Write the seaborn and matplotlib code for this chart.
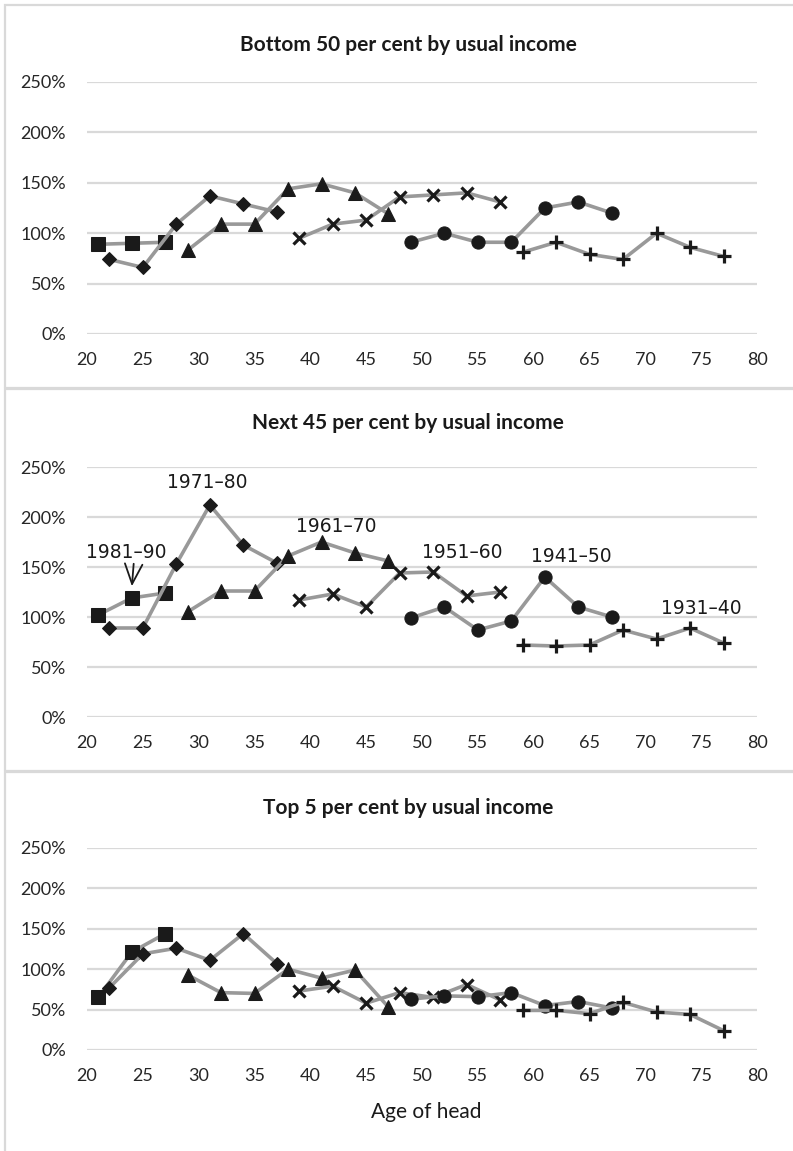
import numpy as np
import pandas as pd
import matplotlib
matplotlib.use("Agg")
import matplotlib.pyplot as plt
from matplotlib.patches import Rectangle
import seaborn as sns

sns.set_theme(style="white")
plt.rcParams["font.family"] = ["Lato", "DejaVu Sans"]

# Birth cohorts and the ages at which each is observed
cohorts = ["1981–90", "1971–80", "1961–70", "1951–60", "1941–50", "1931–40"]
ages_1981 = [21, 24, 27]
ages_1971 = [22, 25, 28, 31, 34, 37]
ages_1961 = [29, 32, 35, 38, 41, 44, 47]
ages_1951 = [39, 42, 45, 48, 51, 54, 57]
ages_1941 = [49, 52, 55, 58, 61, 64, 67]
ages_1931 = [59, 62, 65, 68, 71, 74, 77]

# Bottom 50 per cent by usual income (% values)
bottom_1981 = [89, 90, 91]
bottom_1971 = [74, 66, 109, 137, 129, 121]
bottom_1961 = [83, 109, 109, 144, 149, 140, 119]
bottom_1951 = [95, 109, 113, 136, 138, 140, 131]
bottom_1941 = [91, 100, 91, 91, 125, 131, 120]
bottom_1931 = [81, 91, 79, 74, 100, 86, 77]

# Next 45 per cent by usual income
next_1981 = [102, 119, 124]
next_1971 = [89, 89, 153, 212, 172, 154]
next_1961 = [105, 126, 126, 161, 175, 164, 156]
next_1951 = [117, 123, 110, 144, 145, 121, 125]
next_1941 = [99, 110, 87, 96, 140, 110, 100]
next_1931 = [72, 71, 72, 87, 78, 89, 74]

# Top 5 per cent by usual income
top_1981 = [65, 121, 144]
top_1971 = [77, 119, 126, 111, 144, 107]
top_1961 = [93, 71, 70, 100, 89, 99, 53]
top_1951 = [73, 79, 58, 71, 65, 81, 62]
top_1941 = [63, 67, 66, 71, 55, 60, 52]
top_1931 = [49, 49, 45, 59, 47, 44, 24]

panel_titles = ["Bottom 50 per cent by usual income",
                "Next 45 per cent by usual income",
                "Top 5 per cent by usual income"]
x_ticks = list(range(20, 81, 5))
y_ticks = [0, 50, 100, 150, 200, 250]
x_label = "Age of head"

# Cohort labels shown on the middle panel: (label, x, y)
label_pos = [("1971–80", 30.8, 235), ("1961–70", 42.3, 190), ("1951–60", 53.6, 164),
             ("1941–50", 63.4, 160), ("1931–40", 75.0, 108)]
arrow_label = ("1981–90", 23.5, 164)

ages = [ages_1981, ages_1971, ages_1961, ages_1951, ages_1941, ages_1931]
panels = [
    [bottom_1981, bottom_1971, bottom_1961, bottom_1951, bottom_1941, bottom_1931],
    [next_1981, next_1971, next_1961, next_1951, next_1941, next_1931],
    [top_1981, top_1971, top_1961, top_1951, top_1941, top_1931],
]

marker_style = {
    "1981–90": dict(marker="s", markersize=10.5),
    "1971–80": dict(marker="D", markersize=7.5),
    "1961–70": dict(marker="^", markersize=9.5),
    "1951–60": dict(marker="x", markersize=8.5, markeredgewidth=2.3),
    "1941–50": dict(marker="o", markersize=9.5),
    "1931–40": dict(marker="+", markersize=10.5, markeredgewidth=2.3),
}

W, H = 793, 1151
fig = plt.figure(figsize=(W / 100, H / 100), dpi=100)

def fx(px):
    return px / W

def fy(py):
    return 1 - py / H

# Chart area frames
frame_col = "#d9d9d9"
for top, bot in [(5, 388), (389, 771), (772, 1160)]:
    fig.patches.append(Rectangle((fx(5), fy(bot)), fx(820) - fx(5), fy(top) - fy(bot),
                                 transform=fig.transFigure, fill=False,
                                 edgecolor=frame_col, linewidth=1.6))

# Plot area positions in pixels: (y of 250%, y of 0%), title y
layout = [(82, 334, 45), (467, 717, 423), (848, 1050, 808)]
x_left, x_right = 87, 757

grey = "#999999"
for p, (vals, (ytop, ybot, ytitle)) in enumerate(zip(panels, layout)):
    ax = fig.add_axes([fx(x_left), fy(ybot), fx(x_right) - fx(x_left), fy(ytop) - fy(ybot)])
    for c, a, v in zip(cohorts, ages, vals):
        df = pd.DataFrame({"age": a, "share": v})
        sns.lineplot(data=df, x="age", y="share", ax=ax, color=grey, linewidth=2.6,
                     markerfacecolor="#1a1a1a", markeredgecolor="#1a1a1a",
                     clip_on=False, zorder=3, **marker_style[c])
    ax.set_xlim(20, 80)
    ax.set_ylim(0, 250)
    ax.set_xticks(x_ticks)
    ax.set_yticks(y_ticks)
    ax.set_yticklabels([f"{t}%" for t in y_ticks])
    ax.grid(axis="y", color="#d9d9d9", linewidth=1.6)
    ax.grid(axis="x", visible=False)
    for s in ax.spines.values():
        s.set_visible(False)
    ax.tick_params(axis="both", length=0, labelsize=13, colors="#262626")
    ax.tick_params(axis="x", pad=13)
    ax.tick_params(axis="y", pad=15)
    ax.set_xlabel("")
    ax.set_ylabel("")
    fig.text(fx(408), fy(ytitle), panel_titles[p], ha="center", va="center",
             fontsize=15, fontweight="bold", color="#1a1a1a")

    if p == 1:
        for lab, lx, ly in label_pos:
            ax.text(lx, ly, lab, ha="center", va="center", fontsize=13.5,
                    color="#1a1a1a", family=["Liberation Sans Narrow", "DejaVu Sans"])
        lab, lx, ly = arrow_label
        ax.text(lx, ly, lab, ha="center", va="center", fontsize=13.5,
                color="#1a1a1a", family=["Liberation Sans Narrow", "DejaVu Sans"])
        ax.annotate("", xy=(24, 128), xytext=(24.2, 156),
                    arrowprops=dict(arrowstyle="->,head_length=0.8,head_width=0.35",
                                    color="#1a1a1a", lw=1.3, mutation_scale=18))
    if p == 2:
        fig.text(fx(426), fy(1112), x_label, ha="center", va="center",
                 fontsize=15, color="#1a1a1a")

fig.savefig("out.png", dpi=100, facecolor="white")
